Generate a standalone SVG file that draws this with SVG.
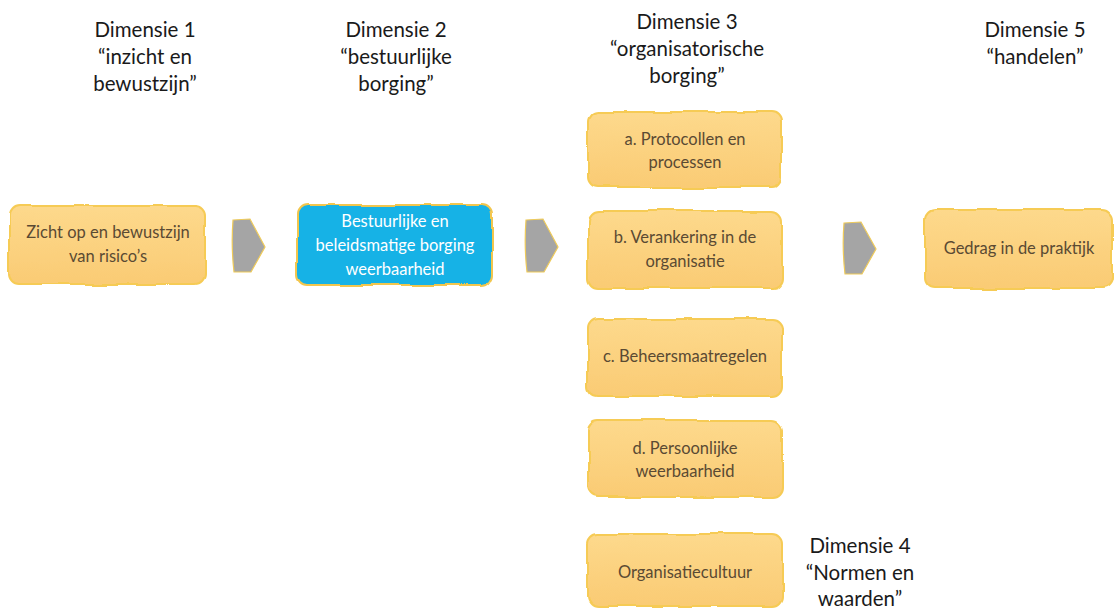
<svg xmlns="http://www.w3.org/2000/svg" width="1115" height="608" viewBox="0 0 1115 608">
<defs>
<linearGradient id="og" x1="0" y1="0" x2="0" y2="1">
<stop offset="0" stop-color="#FDD98C"/>
<stop offset="1" stop-color="#FACB74"/>
</linearGradient>
<filter id="wob" x="-5%" y="-10%" width="110%" height="120%">
<feTurbulence type="fractalNoise" baseFrequency="0.025" numOctaves="2" seed="3" result="n"/>
<feDisplacementMap in="SourceGraphic" in2="n" scale="6" xChannelSelector="R" yChannelSelector="G"/>
</filter>
<style>
.head{font-family:Lato,"Liberation Sans",sans-serif;font-size:20.5px;fill:#1a1a1a;text-anchor:middle}
.lbl{font-family:Lato,"Liberation Sans",sans-serif;font-size:16.5px;fill:#5a4a33;text-anchor:middle}
.lblw{font-family:Lato,"Liberation Sans",sans-serif;font-size:16.5px;fill:#ffffff;text-anchor:middle}
.ob{fill:url(#og);stroke:#F6CB55;stroke-width:2;filter:url(#wob)}
.bb{fill:#19B2E6;stroke:#F2C64E;stroke-width:2;filter:url(#wob)}
.arr{fill:#A5A5A5;stroke:#EFCB5A;stroke-width:1.2}
</style>
</defs>

<g id="headings">
<text class="head" x="145" y="37">Dimensie 1</text>
<text class="head" x="145" y="64">“inzicht en</text>
<text class="head" x="145" y="91">bewustzijn”</text>
<text class="head" x="396" y="37">Dimensie 2</text>
<text class="head" x="396" y="64">“bestuurlijke</text>
<text class="head" x="396" y="91">borging”</text>
<text class="head" x="687" y="29">Dimensie 3</text>
<text class="head" x="687" y="56">“organisatorische</text>
<text class="head" x="687" y="83">borging”</text>
<text class="head" x="1035" y="37">Dimensie 5</text>
<text class="head" x="1035" y="64">“handelen”</text>
<text class="head" x="860" y="553">Dimensie 4</text>
<text class="head" x="860" y="580">“Normen en</text>
<text class="head" x="860" y="606">waarden”</text>
</g>

<g id="n1">
<rect class="ob" x="10" y="206" width="195" height="78" rx="10"/>
<text class="lbl" x="108" y="238">Zicht op en bewustzijn</text>
<text class="lbl" x="108" y="262">van risico’s</text>
</g>

<g id="n2">
<rect class="bb" x="297" y="205" width="195" height="80" rx="10"/>
<text class="lblw" x="395" y="227">Bestuurlijke en</text>
<text class="lblw" x="395" y="251">beleidsmatige borging</text>
<text class="lblw" x="395" y="275">weerbaarheid</text>
</g>

<g id="n3a">
<rect class="ob" x="588" y="112" width="194" height="75" rx="10"/>
<text class="lbl" x="685" y="145">a. Protocollen en</text>
<text class="lbl" x="685" y="168">processen</text>
</g>
<g id="n3b">
<rect class="ob" x="588" y="211" width="194" height="77" rx="10"/>
<text class="lbl" x="685" y="243">b. Verankering in de</text>
<text class="lbl" x="685" y="267">organisatie</text>
</g>
<g id="n3c">
<rect class="ob" x="588" y="319" width="194" height="77" rx="10"/>
<text class="lbl" x="685" y="362">c. Beheersmaatregelen</text>
</g>
<g id="n3d">
<rect class="ob" x="588" y="421" width="194" height="76" rx="10"/>
<text class="lbl" x="685" y="454">d. Persoonlijke</text>
<text class="lbl" x="685" y="477">weerbaarheid</text>
</g>
<g id="n4">
<rect class="ob" x="588" y="534" width="194" height="72" rx="10"/>
<text class="lbl" x="685" y="578">Organisatiecultuur</text>
</g>
<g id="n5">
<rect class="ob" x="925" y="210" width="188" height="78" rx="10"/>
<text class="lbl" x="1019" y="254">Gedrag in de praktijk</text>
</g>

<g id="connectors">
<path class="arr" d="M233,220 L250,219 L265,247 L251,272 L234,272 Q231,246 233,220 Z"/>
<path class="arr" d="M526,220 L543,219 L558,247 L544,272 L527,272 Q524,246 526,220 Z"/>
<path class="arr" d="M844,223 L861,222 L876,249 L862,274 L845,274 Q842,248 844,223 Z"/>
</g>
</svg>
